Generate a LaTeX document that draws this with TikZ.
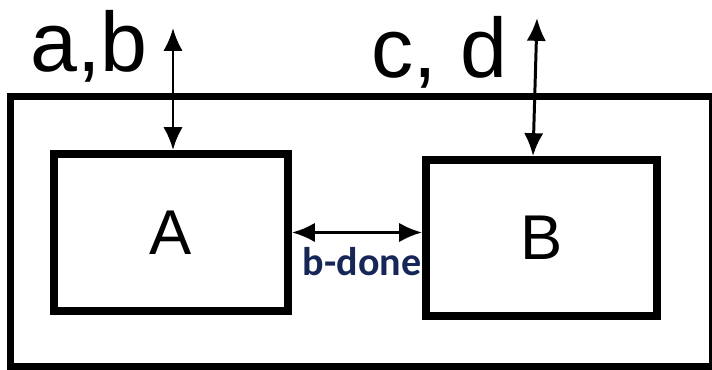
\documentclass[tikz,border=0pt]{standalone}
\usepackage{fontspec}
\setmainfont{Liberation Sans}
\newfontfamily\labelfont{Carlito}
\usepackage{xcolor}
\usetikzlibrary{calc,arrows.meta}
\definecolor{donecol}{RGB}{22,38,86}

\begin{document}
\begin{tikzpicture}[
  block/.style={draw,line width=4.5pt,inner sep=0pt,font=\fontsize{36}{40}\selectfont},
  sig/.style={line width=1.7pt,{Latex[length=13pt,width=11pt]}-{Latex[length=13pt,width=11pt]}},
  biglab/.style={anchor=base,inner sep=0pt,font=\fontsize{48}{52}\selectfont}]
  \useasboundingbox (0,0) rectangle (14.24,7.4);
  \draw[line width=4.5pt] (.21,.06) rectangle (14.26,5.47);
  \node[block,minimum width=4.68cm,minimum height=3.14cm] (A) at (3.42,2.75) {A};
  \node[block,minimum width=4.62cm,minimum height=3.12cm] (B) at (10.83,2.64) {B};
  \coordinate (ab) at (3.46,6.84); \coordinate (cd) at (10.74,7.04);
  \coordinate (cdend) at (10.66,0);
  \draw[sig] (ab) -- (ab |- A.north);
  \draw[sig] (cd) -- (cdend |- B.north);
  \draw[sig] (A.east) -- (A.east -| B.west);
  \node[biglab] (ablab) at (1.78,5.96) {a,b};
  \node[biglab] (cdlab) at (8.78,5.84) {c, d};
  \node[anchor=base,inner sep=0pt,text=donecol,
    font=\labelfont\bfseries\fontsize{22.8}{26}\selectfont] (done) at (7.24,1.88) {b-done};
\end{tikzpicture}
\end{document}
